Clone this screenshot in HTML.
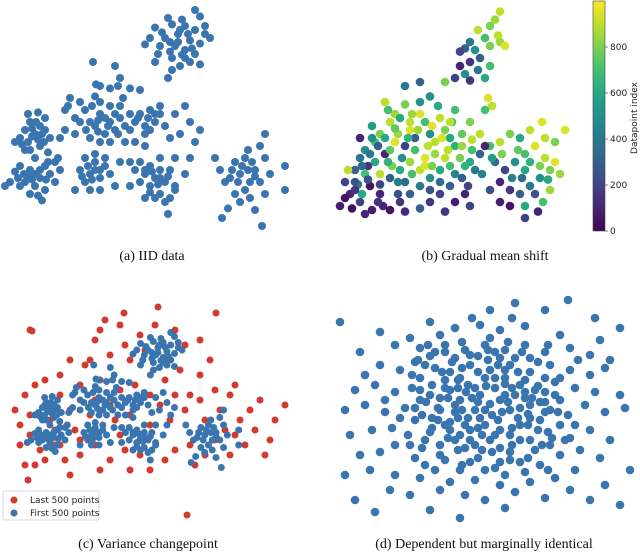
<!DOCTYPE html>
<html><head><meta charset="utf-8"><style>
body{margin:0;background:#fff;width:640px;height:552px;overflow:hidden;font-family:"Liberation Serif",serif}
svg{position:absolute;left:0;top:0}
.cap{font-family:"Liberation Serif",serif;font-size:14px;fill:#111}
.tk{font-family:"DejaVu Sans","Liberation Sans",sans-serif;font-size:9px;fill:#222}
</style></head><body>
<svg id="fig" width="640" height="552">
<text class="cap" x="152" y="260" text-anchor="middle">(a)  IID data</text>
<text class="cap" x="485" y="260" text-anchor="middle">(b)  Gradual mean shift</text>
<text class="cap" x="148" y="548" text-anchor="middle">(c)  Variance changepoint</text>
<text class="cap" x="484" y="548" text-anchor="middle">(d)  Dependent but marginally identical</text>
</svg>
<script>
// Panel (a) IID data: [x, y]
const iidPoints=[[195,10],[200,18],[168,20],[155,32],[172,28],[185,30],[195,35],[205,40],[178,40],[165,45],[190,48],[200,52],[210,45],[175,55],[185,60],[195,65],[170,62],[160,55],[150,45],[190,75],[180,80],[200,78],[172,85],[168,95],[155,75],[145,53],[185,70],[205,30],[182,22],[162,38],[178,50],[188,40],[172,70],
[25,160],[30,150],[40,155],[45,160],[35,165],[20,170],[38,172],[28,140],[38,138],[45,145],[30,185],[40,180],[25,185],[50,170],[15,175],[48,188],[35,195],[32,158],[42,165],[28,175],
[20,205],[30,210],[45,205],[40,220],[25,225],[15,212],[50,215],[55,200],[35,230],[20,230],[10,225],[5,230],[45,235],[38,242],[42,248],[30,240],[55,225],[60,210],[58,195],[48,200],[35,215],[28,218],[40,210],
[70,120],[80,125],[95,118],[85,135],[100,140],[110,150],[120,145],[115,160],[105,165],[95,155],[125,155],[130,140],[90,150],[80,150],[75,145],[100,175],[110,175],[120,130],[110,130],[65,160],[60,170],[75,165],[130,160],[90,170],[68,130],[123,120],[100,105],[105,145],[115,140],[98,162],
[85,195],[95,200],[105,205],[90,215],[100,220],[85,225],[80,210],[110,215],[100,235],[90,235],[95,190],[75,235],[115,230],[105,195],[120,200],[95,210],[88,205],
[140,140],[150,135],[160,140],[155,150],[145,155],[165,155],[150,160],[135,150],[160,130],[175,140],[190,150],[185,130],[170,170],[180,165],[195,175],[200,160],[135,175],[145,180],[125,175],[148,145],
[140,200],[150,205],[160,210],[145,215],[155,220],[165,225],[150,230],[140,225],[170,210],[175,195],[160,195],[135,210],[130,230],[160,240],[155,245],[175,230],[185,215],[170,245],[145,245],[165,250],[130,200],[190,195],[175,235],[152,212],[160,220],
[215,195],[220,210],[235,200],[245,195],[260,180],[265,195],[255,210],[240,215],[230,220],[250,225],[245,235],[235,240],[225,225],[260,225],[240,250],[250,245],[265,240],[255,260],[262,280],[222,270],[228,258],[285,205],[285,235],[270,215],[248,185],[265,165],[242,205],[252,200],
[115,80],[120,95],[118,105],[96,103],[110,108],[130,108],[140,110],[100,125],[65,135],[168,265],[93,75],
[32,168],[22,178],[44,175],[36,150],[24,215],[32,222],[46,222],[18,220],[108,155],[98,148],[118,165],[86,160],[92,130],[100,210],[92,222],[82,218],[145,165],[138,145],[155,140],[145,210],[158,228],[168,218],[150,238],[238,225],[232,210],[255,218],[248,210],[180,35],[170,50],[192,58],[182,66],[158,65]];
// Panel (b) gradual mean shift: [x, y, datapoint index]
const shiftPoints=[[500,12,900],[495,22,850],[490,30,800],[478,35,900],[485,45,700],[470,50,400],[465,58,300],[460,62,200],[475,60,500],[490,55,800],[500,50,850],[480,70,300],[470,75,150],[460,80,100],[455,95,200],[470,98,150],[485,95,600],[490,80,700],[465,90,500],[478,85,400],[498,42,900],[505,55,950],[445,100,800],[420,100,300],[430,118,500],[488,120,950],[492,130,900],[485,135,700],
[350,240,100],[345,225,200],[355,210,300],[360,195,400],[365,185,500],[375,175,700],[380,165,800],[390,150,900],[395,140,850],[400,145,600],[410,150,900],[420,140,950],[425,150,700],[440,145,900],[445,160,800],[450,170,600],[430,165,500],[415,170,300],[405,180,200],[395,175,950],[385,190,100],[375,200,600],[365,215,700],[370,230,50],[380,240,100],[360,250,200],[352,258,50],[390,260,50],[400,250,150],[410,240,300],[420,230,400],[430,220,500],[440,210,600],[450,205,700],[460,195,800],[470,200,600],[480,190,300],[490,180,700],[500,175,900],[510,165,800],[520,170,600],[530,160,900],[535,180,950],[525,190,700],[515,200,500],[505,210,200],[500,225,100],[510,235,150],[520,240,300],[530,230,400],[540,220,500],[550,210,800],[555,200,950],[545,195,900],[525,210,600],[465,240,100],[455,250,80],[450,230,300],[440,240,200],[430,250,150],[420,210,900],[410,200,850],[400,210,600],[390,220,300],[380,215,900],[370,190,400],[360,170,100],[372,155,550],[388,135,700],[405,128,800],[420,125,500],[438,130,600],[455,135,700],[470,150,800],[480,165,900],[485,180,100],[475,210,400],[462,220,300],[445,195,900],[435,190,850],[425,195,950],[415,185,700],[402,195,500],[392,205,800],[378,180,300],[368,205,150],[358,228,400],[348,210,900],[362,240,600],[420,258,300],[445,262,150],[470,255,200],[490,235,250],[500,250,80],[510,255,50],[525,255,600],[538,262,100],[525,270,200],[543,250,700],[550,235,850],[560,215,850],[565,160,950],[555,175,800],[545,170,900],[542,150,950],[383,255,100],[372,260,80],[385,125,900],[405,105,400],[410,160,950],[435,175,900],[455,180,650],[425,205,950],[398,165,850],[462,165,750],[380,228,200],[440,225,350],
[418,160,850],[428,180,900],[442,170,950],[452,150,700],[408,170,650],[390,185,750],[372,170,500],[355,225,250],[362,205,350],[378,250,150],[398,240,250],[455,215,450],[468,230,200],[495,200,350],[512,220,450],[530,200,650],[518,185,750],[540,205,800],
[345,245,50],[355,235,150],[368,222,250],[388,200,650],[398,225,450],[412,215,700],[432,205,800],[448,185,900],[462,180,850],[472,185,700],[492,195,550],[502,190,800],[522,220,350],[535,240,250],[548,222,600],[405,225,350],[385,170,600],[395,158,750],[412,140,850],[432,155,950],[450,150,900],[465,205,650],[482,215,450],[472,172,900],[340,255,80],[365,265,100],[405,262,120],[430,235,250]];
// Panel (c) last 500 points (red): [x, y]
const lastPoints=[[30,330],[100,330],[95,340],[120,325],[125,345],[140,335],[155,325],[175,330],[185,345],[200,340],[110,355],[130,360],[90,360],[70,360],[60,375],[45,380],[35,385],[25,395],[15,410],[20,425],[30,435],[40,450],[55,445],[65,460],[80,455],[95,445],[110,460],[125,450],[140,455],[150,470],[165,460],[175,450],[190,445],[205,455],[215,440],[225,430],[240,420],[255,430],[270,440],[285,405],[260,400],[235,385],[215,390],[200,375],[180,370],[165,380],[150,395],[135,385],[120,390],[100,380],[80,385],[60,395],[45,405],[30,415],[50,420],[70,410],[90,415],[110,405],[130,415],[150,425],[170,420],[185,410],[200,400],[220,410],[245,445],[230,455],[195,465],[130,470],[100,470],[70,475],[28,480],[85,365],[145,350],[165,360],[190,395],[205,420],[75,430],[120,435],[55,430],[25,465],[265,455],[275,420],[210,360],[160,345],[105,320],[230,395],[250,410],[235,435],[45,460],[140,440],[95,400],[175,395],[160,405],[115,420],[80,440],[60,445],[20,445],[35,465],[187,515],[158,307],[216,313],[124,313],[32,331]];
// Panel (d) dependent but marginally identical: [x, y]
const depPoints=[[568,300],[515,303],[545,310],[512,318],[472,318],[340,322],[595,318],[490,310],[430,322],[455,328],[480,325],[500,330],[525,326],[560,335],[600,340],[410,338],[440,335],[490,338],[380,332],[620,328],[395,345],[420,348],[445,345],[465,350],[485,345],[505,350],[525,345],[545,352],[570,348],[590,355],[455,358],[478,356],[500,358],[530,358],[360,352],[610,360],[430,356],[380,365],[400,370],[415,362],[435,368],[450,372],[470,365],[490,370],[510,365],[530,372],[550,365],[570,370],[590,375],[460,378],[485,378],[505,378],[525,380],[445,380],[420,378],[545,378],[365,375],[605,368],[355,390],[375,385],[395,392],[412,388],[430,395],[450,390],[468,385],[480,395],[495,388],[515,395],[535,390],[555,395],[575,388],[595,392],[620,395],[440,398],[460,400],[500,400],[525,398],[545,402],[385,400],[345,410],[365,405],[385,412],[405,408],[422,415],[440,410],[458,418],[475,410],[492,415],[510,410],[530,418],[550,410],[568,415],[585,405],[605,412],[625,408],[415,420],[450,422],[485,425],[520,425],[560,425],[350,435],[372,430],[392,428],[408,435],[430,432],[448,438],[470,430],[490,440],[510,435],[530,440],[548,432],[570,438],[590,430],[610,440],[440,445],[465,448],[500,448],[535,450],[395,445],[360,455],[380,452],[415,458],[445,460],[478,458],[510,460],[540,465],[560,455],[580,450],[600,458],[630,470],[425,465],[495,468],[460,470],[525,472],[370,470],[395,475],[420,478],[450,482],[475,480],[500,485],[530,482],[555,478],[575,470],[605,485],[345,475],[440,490],[515,492],[390,490],[410,495],[465,495],[485,500],[545,498],[570,490],[620,505],[375,512],[430,510],[505,508],[460,518],[590,500],[355,500],[458,388],[478,402],[498,420],[520,385],[438,420],[470,440],[512,445],[488,360],[540,420],[420,400],[465,425],[505,395],[455,405],[530,405],[482,450],
[435,352],[452,362],[470,355],[495,352],[515,358],[538,362],[442,372],[462,368],[478,372],[498,365],[518,372],[538,386],[432,385],[448,398],[466,392],[486,386],[505,384],[525,392],[545,392],[438,408],[455,412],[472,398],[490,404],[508,402],[528,414],[545,412],[432,428],[450,430],[468,418],[482,435],[500,430],[518,418],[538,430],[440,455],[458,450],[475,445],[492,452],[510,452],[528,458],[455,440],[520,440],[480,418],[495,378],[458,380],[542,445],[425,440],[550,445],[420,390],[555,382],[462,465],[500,462],
[428,345],[445,352],[462,342],[508,342],[522,352],[548,345],[425,365],[488,350],[505,370],[560,378],[412,375],[426,402],[445,388],[475,388],[512,388],[532,398],[560,400],[415,408],[432,418],[462,410],[485,410],[502,412],[520,408],[540,402],[558,412],[422,448],[445,425],[460,435],[478,428],[495,435],[512,428],[528,425],[552,438],[435,470],[470,462],[485,470],[505,475],[520,462],[548,470],[410,445],[575,425],[400,418],[565,440],[418,360],[578,360]];
const cbTicks=[0,200,400,600,800];

const NS='http://www.w3.org/2000/svg';
const svg=document.getElementById('fig');
function lin(d0,d1,r0,r1){return v=>r0+(v-d0)/(d1-d0)*(r1-r0);}
function mk(tag,attrs){const e=document.createElementNS(NS,tag);for(const k in attrs)e.setAttribute(k,attrs[k]);return e;}
const BLUE='#3a75b0',RED='#d33a2e',R=4;
const vir=[[68,1,84],[72,40,120],[62,74,137],[49,104,142],[38,130,142],[31,158,137],[53,183,121],[109,205,89],[180,222,44],[253,231,37]];
function viridis(t){t=Math.max(0,Math.min(1,t));const p=t*(vir.length-1),i=Math.min(vir.length-2,Math.floor(p)),f=p-i;const c=vir[i].map((a,k)=>Math.round(a+(vir[i+1][k]-a)*f));return `rgb(${c[0]},${c[1]},${c[2]})`;}

// axes
const ax=lin(0,300,0,300), ay=lin(10,280,10,226);
const bx=lin(0,640,0,640), by=lin(10,280,10,226);
const cx=lin(0,300,23.5,250), cy=lin(45,215,350,435);
const dx=lin(0,640,0,640), dy=lin(0,552,0,552);
const colorScale=lin(0,1000,0,1);

const ga=mk('g',{});svg.appendChild(ga);
iidPoints.forEach(p=>{const c=mk('circle',{cx:ax(p[0]),cy:ay(p[1]),r:R,fill:BLUE});


ga.appendChild(c);});

const gb=mk('g',{});svg.appendChild(gb);
shiftPoints.forEach(p=>{const c=mk('circle',{cx:bx(p[0]),cy:by(p[1]),r:R+0.3,fill:viridis(colorScale(p[2]))});


gb.appendChild(c);});

// colorbar
const defs=mk('defs',{});const lg=mk('linearGradient',{id:'vg',x1:0,y1:1,x2:0,y2:0});
vir.forEach((c,i)=>lg.appendChild(mk('stop',{offset:i/(vir.length-1),'stop-color':`rgb(${c})`})));
defs.appendChild(lg);svg.appendChild(defs);
const cbY=lin(0,1000,231,1);
const cb=mk('rect',{x:593,y:1,width:12,height:230,fill:'url(#vg)',stroke:'#444','stroke-width':0.6});


svg.appendChild(cb);
cbTicks.forEach(t=>{svg.appendChild(mk('line',{x1:605,x2:608,y1:cbY(t),y2:cbY(t),stroke:'#333','stroke-width':0.6}));
const tx=mk('text',{x:610,y:cbY(t)+3,class:'tk'});tx.textContent=t;


svg.appendChild(tx);});
const cbl=mk('text',{x:0,y:0,class:'tk',transform:'translate(637,118) rotate(-90)','text-anchor':'middle'});cbl.textContent='Datapoint index';


svg.appendChild(cbl);

const gc=mk('g',{});svg.appendChild(gc);
lastPoints.forEach(p=>{const c=mk('circle',{cx:p[0],cy:p[1],r:R-0.5,fill:RED});


gc.appendChild(c);});
iidPoints.forEach(p=>{const c=mk('circle',{cx:cx(p[0]),cy:cy(p[1]),r:R-0.5,fill:BLUE});


gc.appendChild(c);});
// legend
const lgd=mk('g',{});svg.appendChild(lgd);
lgd.appendChild(mk('rect',{x:3,y:491,width:96,height:29,rx:2,fill:'#fff','fill-opacity':0.85,stroke:'#ccc','stroke-width':0.8}));
[['Last 500 points',RED,500],['First 500 points',BLUE,513]].forEach(e=>{
const it=mk('g',{});


it.appendChild(mk('circle',{cx:14,cy:e[2],r:3.5,fill:e[1]}));
const t=mk('text',{x:30,y:e[2]+3,class:'tk','font-size':'8.5px'});t.textContent=e[0];it.appendChild(t);lgd.appendChild(it);});

const gd=mk('g',{});svg.appendChild(gd);
depPoints.forEach(p=>{const c=mk('circle',{cx:dx(p[0]),cy:dy(p[1]),r:R+0.3,fill:BLUE});


gd.appendChild(c);});
</script>
</body></html>
